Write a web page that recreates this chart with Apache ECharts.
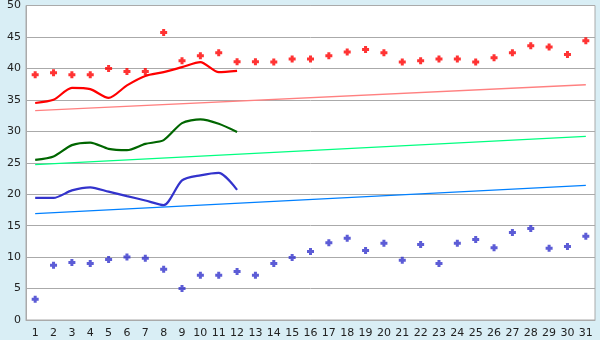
<!DOCTYPE html>
<html><head><meta charset="utf-8">
<script src="https://cdn.jsdelivr.net/npm/echarts@6/dist/echarts.min.js"></script>
<style>html,body{margin:0;padding:0;background:#d9eef5;}#c{width:600px;height:340px;}</style>
</head><body><div id="c"></div>
<script>
const days = Array.from({length:31},(_,i)=>String(i+1));
const yTicks = [0,5,10,15,20,25,30,35,40,45,50];
const redPoints = [39.0,39.3,39.0,39.0,40.0,39.5,39.5,45.7,41.2,42.0,42.5,41.05,41.05,41.0,41.5,41.5,42.0,42.6,43.0,42.5,41.0,41.2,41.5,41.5,41.0,41.7,42.5,43.6,43.4,42.2,44.4];
const redLine = [34.5,35.0,36.9,36.7,35.3,37.3,38.8,39.4,40.2,41.0,39.4,39.6];
const greenLine = [25.45,26.0,27.8,28.2,27.2,27.0,28.0,28.6,31.3,31.9,31.2,29.9];
const blueLine = [19.4,19.4,20.6,21.1,20.4,19.7,19.0,18.25,22.2,23.0,23.4,20.7];
const bluePoints = [3.3,8.7,9.15,9.0,9.6,10.0,9.8,8.05,5.0,7.1,7.1,7.7,7.1,9.0,9.95,10.9,12.3,13.0,11.05,12.2,9.5,12.0,9.0,12.2,12.8,11.5,13.9,14.55,11.4,11.7,13.3];
const redTrendEnds = [33.3,37.4];
const greenTrendEnds = [24.7,29.2];
const blueTrendEnds = [16.9,21.4];

function trend(ends){const a=new Array(days.length).fill(null);a[0]=ends[0];a[a.length-1]=ends[1];return a;}
const plus='path://M2,0 L5,0 L5,2 L7,2 L7,5 L5,5 L5,7 L2,7 L2,5 L0,5 L0,2 L2,2 Z';
const font='DejaVu Sans';
const chart=echarts.init(document.getElementById('c'),null,{renderer:'canvas'});
chart.setOption({
  animation:false,
  backgroundColor:'#d9eef5',
  grid:{left:26,right:5,top:5,bottom:20,show:true,backgroundColor:'#ffffff',borderColor:'#aaaaaa',borderWidth:1},
  xAxis:{type:'category',data:days,boundaryGap:true,
    axisLine:{lineStyle:{color:'#aaaaaa'}},
    axisTick:{alignWithLabel:true,length:6,lineStyle:{color:'#333'}},
    axisLabel:{color:'#222',fontFamily:font,fontSize:11,margin:8,interval:0}},
  yAxis:{type:'value',min:yTicks[0],max:yTicks[yTicks.length-1],interval:5,
    axisLine:{show:true,lineStyle:{color:'#aaaaaa'}},
    axisTick:{show:false},
    axisLabel:{color:'#222',fontFamily:font,fontSize:11,margin:5},
    splitLine:{lineStyle:{color:'#aaaaaa',width:1}}},
  series:[
    {type:'line',data:trend(redTrendEnds),connectNulls:true,showSymbol:false,symbol:'none',lineStyle:{color:'#ff8080',width:1.3}},
    {type:'line',data:trend(greenTrendEnds),connectNulls:true,showSymbol:false,symbol:'none',lineStyle:{color:'#00ff80',width:1.3}},
    {type:'line',data:trend(blueTrendEnds),connectNulls:true,showSymbol:false,symbol:'none',lineStyle:{color:'#0080ff',width:1.3}},
    {type:'line',data:redLine,smooth:0.25,symbol:'none',lineStyle:{color:'#ff0000',width:2.2}},
    {type:'line',data:greenLine,smooth:0.25,symbol:'none',lineStyle:{color:'#006600',width:2.2}},
    {type:'line',data:blueLine,smooth:0.25,symbol:'none',lineStyle:{color:'#3333cc',width:2.2}},
    {type:'scatter',data:redPoints,symbol:plus,symbolSize:7,itemStyle:{color:'#ff0000'}},
    {type:'scatter',data:bluePoints,symbol:plus,symbolSize:7,itemStyle:{color:'#3333cc'}}
  ]
});
</script></body></html>
